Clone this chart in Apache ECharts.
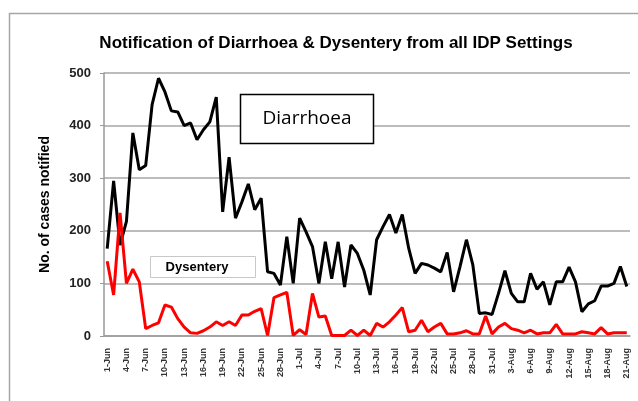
<!DOCTYPE html>
<html>
<head>
<meta charset="utf-8">
<script src="https://cdn.jsdelivr.net/npm/echarts@6/dist/echarts.min.js"></script>
<style>
  html, body { margin: 0; padding: 0; background: #fff; }
  #chart { width: 638px; height: 401px; }
</style>
</head>
<body>
<div id="chart"></div>
<script>
// daily notifications, 1 Jun - 21 Aug
var months = [['Jun', 30], ['Jul', 31], ['Aug', 21]]
var days = []
months.forEach(function (m) {
  for (var d = 1; d <= m[1]; d++) days.push(d + '-' + m[0])
})

var diarrhoea = [
  166, 295, 173, 218, 386, 316, 324, 440, 490, 464, 428, 426, 400, 405, 373, 392, 407, 454, 236, 340,
  224, 255, 289, 240, 262, 122, 119, 97, 189, 100, 224, 198, 170, 100, 179, 109, 179, 93, 173, 157,
  125, 78, 183, 208, 231, 196, 231, 167, 119, 138, 135, 129, 122, 159, 84, 132, 183, 135, 43, 44,
  41, 81, 124, 81, 65, 65, 119, 89, 103, 59, 103, 103, 131, 103, 46, 61, 67, 95, 95, 100, 132, 94
]
var dysentery = [
  142, 78, 234, 100, 127, 103, 14, 20, 25, 59, 55, 33, 17, 6, 5, 10, 17, 27, 20, 27,
  20, 40, 40, 47, 52, 1, 73, 78, 83, 1, 12, 3, 81, 36, 38, 1, 1, 1, 11, 1,
  11, 1, 24, 17, 27, 40, 54, 8, 11, 30, 8, 17, 24, 4, 4, 6, 10, 4, 4, 38,
  4, 17, 24, 14, 11, 6, 11, 4, 6, 6, 22, 4, 4, 4, 8, 6, 4, 16, 4, 6, 6, 6
]

var chart = echarts.init(document.getElementById('chart'))
chart.setOption({
  animation: false,
  backgroundColor: '#fff',
  textStyle: { fontFamily: 'Liberation Sans' },
  title: {
    text: 'Notification of Diarrhoea & Dysentery from all IDP Settings',
    left: 331,
    textAlign: 'center',
    top: 30,
    textStyle: { fontSize: 17, fontWeight: 'bold', color: '#000' }
  },
  grid: { left: 104, right: 8, top: 73, bottom: 65 },
  xAxis: {
    type: 'category',
    data: days,
    boundaryGap: true,
    axisLine: { lineStyle: { color: '#999', width: 1.5 } },
    axisTick: { show: false },
    axisLabel: {
      interval: 2,
      rotate: 90,
      fontSize: 9,
      fontWeight: 'bold',
      color: '#333',
      margin: 12
    }
  },
  yAxis: {
    type: 'value',
    min: 0,
    max: 500,
    interval: 100,
    name: 'No. of cases notified',
    nameLocation: 'middle',
    nameGap: 52,
    nameTextStyle: { fontSize: 14, fontWeight: 'bold', color: '#000' },
    axisLine: { show: true, lineStyle: { color: '#999', width: 1.5 } },
    axisTick: { show: true, length: 4, lineStyle: { color: '#999' } },
    axisLabel: { fontSize: 13, fontWeight: 'bold', color: '#222', margin: 13 },
    splitLine: { lineStyle: { color: '#a6a6a6', width: 1.5 } }
  },
  series: [
    {
      name: 'Diarrhoea',
      type: 'line',
      data: diarrhoea,
      symbol: 'none',
      lineStyle: { color: '#000', width: 3 },
      itemStyle: { color: '#000' }
    },
    {
      name: 'Dysentery',
      type: 'line',
      data: dysentery,
      symbol: 'none',
      lineStyle: { color: '#ff0000', width: 3 },
      itemStyle: { color: '#ff0000' }
    }
  ],
  graphic: [
    {
      type: 'rect',
      shape: { x: 9.5, y: 13.5, width: 640, height: 400 },
      style: { fill: null, stroke: '#a6a6a6', lineWidth: 1.5 },
      silent: true
    },
    {
      type: 'rect',
      z: 100,
      shape: { x: 240.5, y: 94.5, width: 133, height: 49 },
      style: { fill: '#fff', stroke: '#000', lineWidth: 1.5 }
    },
    {
      type: 'text',
      z: 101,
      x: 307,
      y: 119,
      style: {
        text: 'Diarrhoea',
        fontSize: 19,
        fontFamily: 'Open Sans',
        fill: '#000',
        align: 'center',
        verticalAlign: 'middle'
      }
    },
    {
      type: 'rect',
      z: 100,
      shape: { x: 150.5, y: 256.5, width: 105, height: 21 },
      style: { fill: '#fff', stroke: '#c8c8c8', lineWidth: 1 }
    },
    {
      type: 'text',
      z: 101,
      x: 197,
      y: 267,
      style: {
        text: 'Dysentery',
        fontSize: 13,
        fontWeight: 'bold',
        fontFamily: 'Liberation Sans',
        fill: '#000',
        align: 'center',
        verticalAlign: 'middle'
      }
    }
  ]
})
</script>
</body>
</html>
